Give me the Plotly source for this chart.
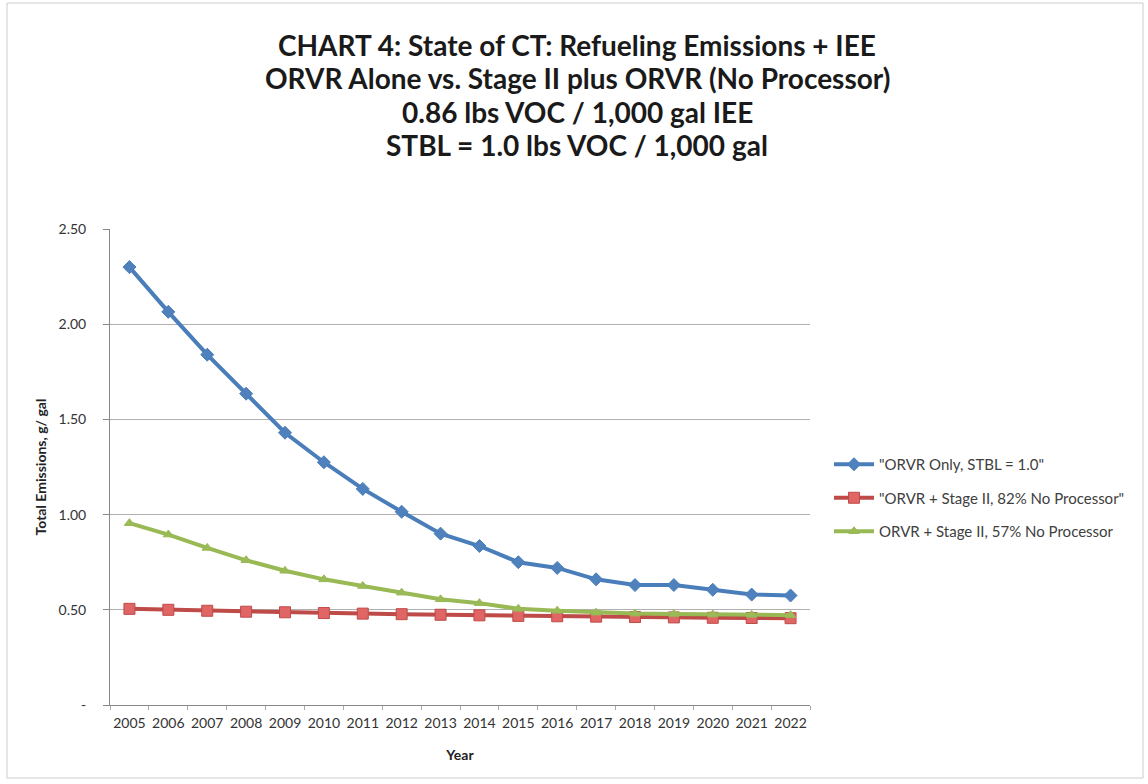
import plotly.graph_objects as go

# Refueling emissions (g/gal) by year
years = [str(y) for y in range(2005, 2023)]
orvr_only = [2.30, 2.065, 1.84, 1.635, 1.43, 1.275, 1.135, 1.015, 0.90, 0.835,
             0.75, 0.72, 0.66, 0.63, 0.63, 0.605, 0.58, 0.575]
stage2_82 = [0.505, 0.50, 0.495, 0.49, 0.487, 0.483, 0.48, 0.477, 0.474, 0.471,
             0.468, 0.466, 0.464, 0.462, 0.46, 0.458, 0.457, 0.456]
stage2_57 = [0.955, 0.895, 0.825, 0.76, 0.705, 0.66, 0.625, 0.59, 0.555, 0.535,
             0.505, 0.495, 0.485, 0.48, 0.478, 0.475, 0.473, 0.472]

series_names = ['"ORVR Only, STBL = 1.0"',
                '"ORVR + Stage II, 82% No Processor"',
                'ORVR + Stage II, 57% No Processor']

title_lines = ["CHART 4: State of CT: Refueling Emissions + IEE",
               "ORVR Alone vs. Stage II plus ORVR (No Processor)",
               "0.86 lbs VOC / 1,000 gal IEE",
               "STBL = 1.0 lbs VOC / 1,000 gal"]

y_ticks = [0, 0.5, 1.0, 1.5, 2.0, 2.5]
y_tick_text = ["-", "0.50", "1.00", "1.50", "2.00", "2.50"]

FONT = "Lato, 'Open Sans', sans-serif"

# Plot area in pixels
L, R, T, B = 110, 810, 229, 705
W, H = R - L, B - T


def px_x(x):
    return (x - L) / W


def px_y(y):
    return (B - y) / H


fig = go.Figure()
styles = [
    (orvr_only, "#4A7EBB", "#4F81BD", "diamond", 10),
    (stage2_82, "#BE4B48", "#E06666", "square", 11),
    (stage2_57, "#98B954", "#9BBB59", "triangle-up", 9),
]
for i, ((vals, lc, mc, sym, ms), name) in enumerate(zip(styles, series_names)):
    fig.add_trace(go.Scatter(
        x=years, y=vals, name=name, mode="lines+markers", legendgroup=f"g{i}",
        line=dict(color=lc, width=4),
        marker=dict(symbol=sym, size=ms, color=mc, line=dict(color=lc, width=1)),
    ))

# Four-line bold title above the plot area
for i, txt in enumerate(title_lines):
    fig.add_annotation(
        text=f"<b>{txt}</b>", xref="paper", yref="paper",
        x=px_x(577), y=px_y(45 + 33.3 * i),
        showarrow=False, font=dict(size=28, color="#1a1a1a", family=FONT),
        xanchor="center", yanchor="middle",
    )

fig.update_layout(
    width=1148, height=784,
    margin=dict(l=L, r=1148 - R, t=T, b=784 - B),
    paper_bgcolor="white", plot_bgcolor="white",
    font=dict(family=FONT, color="#333"),
    showlegend=True,
    legend=dict(x=px_x(829), y=px_y(498), xanchor="left", yanchor="middle",
                font=dict(size=15, color="#404040", family=FONT),
                tracegroupgap=11, itemwidth=40, bgcolor="rgba(0,0,0,0)"),
    xaxis=dict(
        type="category", range=[-0.5, 17.5], showgrid=False,
        showline=True, linecolor="#888", linewidth=1,
        ticks="outside", ticklen=4, tickcolor="#aaa", tickson="boundaries",
        tickangle=0, ticklabelstandoff=5, tickfont=dict(size=14, color="#333"),
        title=dict(text="<b>Year</b>", font=dict(size=14, color="#222"), standoff=20),
    ),
    yaxis=dict(
        range=[0, 2.5], tickvals=y_ticks, ticktext=y_tick_text,
        showgrid=True, gridcolor="#b0b0b0", gridwidth=1,
        showline=True, linecolor="#888", linewidth=1,
        ticks="outside", ticklen=6, tickcolor="#888", ticklabelstandoff=14,
        tickfont=dict(size=14, color="#333"),
        zeroline=False,
        title=dict(text="<b>Total Emissions, g/ gal</b>",
                   font=dict(size=14, color="#222"), standoff=8),
    ),
    shapes=[dict(type="rect", xref="paper", yref="paper",
                 x0=px_x(7), x1=px_x(1143), y0=px_y(778), y1=px_y(3),
                 line=dict(color="#cccccc", width=1), layer="below")],
)

fig.write_html("out.html")
